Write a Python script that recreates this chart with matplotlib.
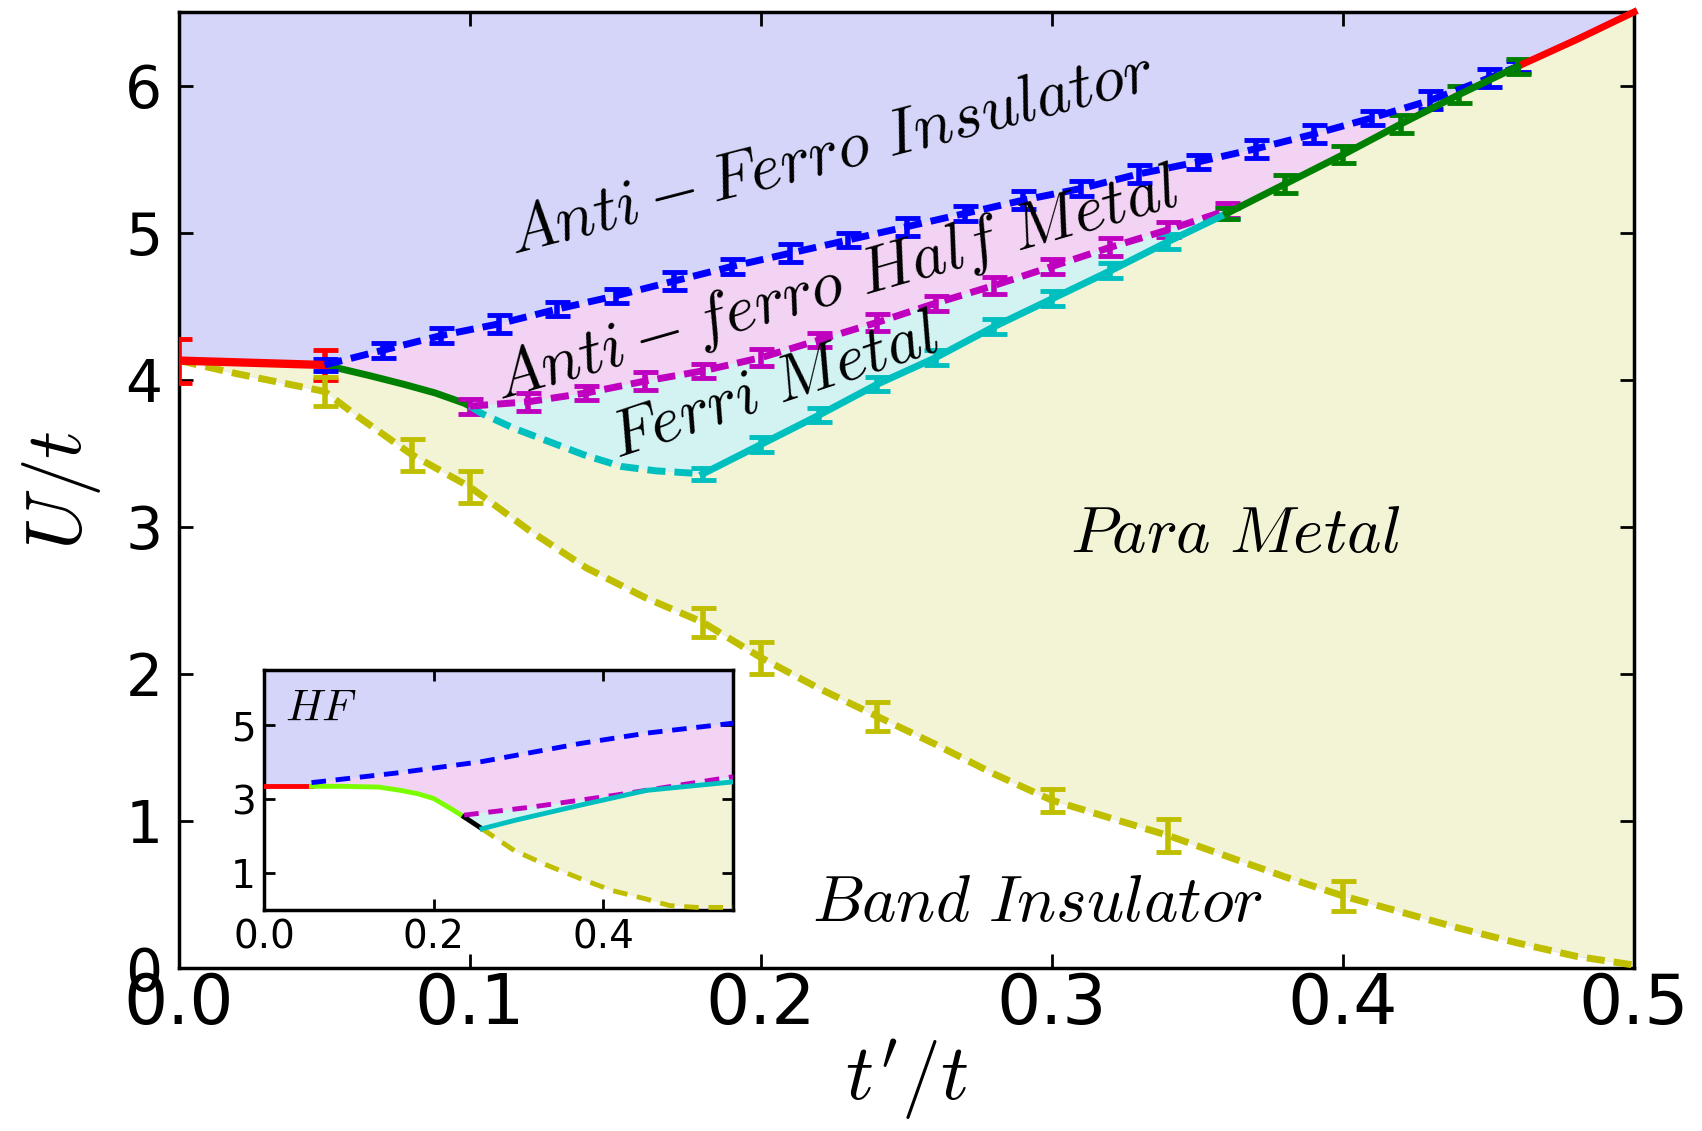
import matplotlib
matplotlib.use("Agg")
import matplotlib.pyplot as plt
import numpy as np

plt.rcParams['mathtext.fontset'] = 'cm'
plt.rcParams['font.family'] = ['DejaVu Sans']

# ---- main phase boundaries (t'/t, U/t, error) ----
red_lo_x = [0.0, 0.05]
red_lo_y = [4.13, 4.10]
red_lo_err = [0.15, 0.10]

grn_lo_x = [0.05, 0.065, 0.077, 0.088, 0.098, 0.10]
grn_lo_y = [4.10, 4.03, 3.97, 3.91, 3.84, 3.82]

blue_x = [0.05, 0.07, 0.09, 0.11, 0.13, 0.15, 0.17, 0.19, 0.21, 0.23, 0.25,
          0.27, 0.29, 0.31, 0.33, 0.35, 0.37, 0.39, 0.41, 0.43, 0.45, 0.46]
blue_y = [4.10, 4.20, 4.30, 4.38, 4.48, 4.57, 4.67, 4.77, 4.86, 4.95, 5.04,
          5.13, 5.22, 5.30, 5.40, 5.48, 5.57, 5.67, 5.78, 5.90, 6.05, 6.13]
blue_err = [0.04, 0.05, 0.05, 0.06, 0.05, 0.05, 0.06, 0.05, 0.06, 0.05, 0.06,
            0.05, 0.06, 0.05, 0.06, 0.05, 0.06, 0.06, 0.05, 0.06, 0.06, 0.04]

mag_x = [0.10, 0.12, 0.14, 0.16, 0.18, 0.20, 0.22, 0.24, 0.26, 0.28, 0.30,
         0.32, 0.34, 0.36]
mag_y = [3.82, 3.85, 3.91, 3.99, 4.06, 4.15, 4.27, 4.39, 4.52, 4.64, 4.77,
         4.90, 5.02, 5.15]
mag_err = [0.05, 0.06, 0.05, 0.06, 0.05, 0.06, 0.05, 0.06, 0.05, 0.06, 0.05,
           0.06, 0.05, 0.05]

cyn_d_x = [0.10, 0.104, 0.115, 0.127, 0.139, 0.152, 0.164, 0.18]
cyn_d_y = [3.82, 3.77, 3.67, 3.58, 3.49, 3.41, 3.38, 3.36]

cyn_x = [0.18, 0.20, 0.22, 0.24, 0.26, 0.28, 0.30, 0.32, 0.34, 0.36]
cyn_y = [3.36, 3.56, 3.76, 3.97, 4.15, 4.36, 4.55, 4.74, 4.94, 5.13]
cyn_err = [0.04, 0.05, 0.05, 0.05, 0.05, 0.05, 0.05, 0.05, 0.05, 0.04]

grn_hi_x = [0.36, 0.38, 0.40, 0.42, 0.44, 0.46]
grn_hi_y = [5.13, 5.33, 5.53, 5.74, 5.94, 6.13]
grn_hi_err = [0.04, 0.06, 0.06, 0.06, 0.06, 0.05]

red_hi_x = [0.46, 0.48, 0.50]
red_hi_y = [6.13, 6.31, 6.50]

yel_x = [0.0, 0.02, 0.05, 0.06, 0.07, 0.08, 0.09, 0.10, 0.12, 0.14, 0.16,
         0.18, 0.20, 0.22, 0.24, 0.26, 0.28, 0.30, 0.32, 0.34, 0.36, 0.38,
         0.40, 0.42, 0.44, 0.46, 0.48, 0.50]
yel_y = [4.13, 4.04, 3.92, 3.77, 3.63, 3.49, 3.38, 3.27, 2.98, 2.72, 2.52,
         2.35, 2.11, 1.90, 1.71, 1.52, 1.32, 1.14, 1.02, 0.90, 0.76, 0.62,
         0.49, 0.38, 0.27, 0.17, 0.08, 0.02]
yel_err = [0, 0, 0.10, 0, 0, 0.11, 0, 0.11, 0, 0, 0,
           0.10, 0.11, 0, 0.10, 0, 0, 0.08, 0, 0.11, 0, 0,
           0.10, 0, 0, 0, 0, 0]

# ---- inset (Hartree-Fock) boundaries ----
hf_red_x = [0.0, 0.056]
hf_red_y = [3.35, 3.35]
hf_lime_x = [0.056, 0.09, 0.135, 0.161, 0.181, 0.20, 0.22, 0.236]
hf_lime_y = [3.35, 3.35, 3.33, 3.24, 3.15, 3.02, 2.75, 2.52]
hf_blk_x = [0.236, 0.257]
hf_blk_y = [2.52, 2.20]
hf_yel_x = [0.257, 0.295, 0.334, 0.373, 0.41, 0.45, 0.478, 0.51, 0.553]
hf_yel_y = [2.20, 1.61, 1.21, 0.85, 0.53, 0.30, 0.12, 0.07, 0.07]
hf_blue_x = [0.056, 0.16, 0.257, 0.373, 0.451, 0.553]
hf_blue_y = [3.45, 3.72, 4.02, 4.51, 4.79, 5.06]
hf_mag_x = [0.236, 0.316, 0.414, 0.553]
hf_mag_y = [2.57, 2.79, 3.11, 3.61]
hf_cyn_x = [0.257, 0.296, 0.373, 0.451, 0.553]
hf_cyn_y = [2.20, 2.43, 2.84, 3.24, 3.47]

LAV = '#d5d5fa'
PINK = '#f3d3f3'
LCYN = '#d3f3f3'
BEIGE = '#f3f3d5'
GREEN = '#008000'

fig = plt.figure(figsize=(17.02, 11.31), dpi=100)
ax = fig.add_axes([0.1052, 0.1441, 0.8549, 0.8453])
ax.set_facecolor(LAV)

# regions
cat = np.concatenate
px = cat([blue_x, grn_hi_x[::-1], mag_x[::-1], grn_lo_x[::-1]])
py = cat([blue_y, grn_hi_y[::-1], mag_y[::-1], grn_lo_y[::-1]])
ax.fill(px, py, color=PINK, lw=0, zorder=1)

fx = cat([mag_x, cyn_x[::-1], cyn_d_x[::-1]])
fy = cat([mag_y, cyn_y[::-1], cyn_d_y[::-1]])
ax.fill(fx, fy, color=LCYN, lw=0, zorder=1)

bx = cat([red_lo_x, grn_lo_x, cyn_d_x, cyn_x, grn_hi_x, red_hi_x, yel_x[::-1]])
by = cat([red_lo_y, grn_lo_y, cyn_d_y, cyn_y, grn_hi_y, red_hi_y, yel_y[::-1]])
ax.fill(bx, by, color=BEIGE, lw=0, zorder=1)

ax.fill_between(yel_x, 0, yel_y, color='white', lw=0, zorder=1)

# boundaries
lw = 5
dash = (2.6, 1.3)
eb = dict(capsize=9, elinewidth=4, capthick=3.5, zorder=3)

ax.errorbar(red_lo_x, red_lo_y, yerr=red_lo_err, color='red', lw=lw + 1, **eb)
ax.plot(grn_lo_x, grn_lo_y, color=GREEN, lw=lw, zorder=3)
ax.errorbar(blue_x, blue_y, yerr=blue_err, color='b', lw=lw, dashes=dash, **eb)
ax.errorbar(mag_x, mag_y, yerr=mag_err, color='m', lw=lw, dashes=dash, **eb)
ax.plot(cyn_d_x, cyn_d_y, color='c', lw=lw, dashes=dash, zorder=3)
ax.errorbar(cyn_x, cyn_y, yerr=cyn_err, color='c', lw=lw, **eb)
ax.errorbar(grn_hi_x, grn_hi_y, yerr=grn_hi_err, color=GREEN, lw=lw, **eb)
ax.plot(red_hi_x, red_hi_y, color='red', lw=lw, zorder=3, clip_on=False)
ax.plot(yel_x, yel_y, color='y', lw=lw, dashes=dash, zorder=3)
ye = np.array(yel_err)
m = ye > 0
ax.errorbar(np.array(yel_x)[m], np.array(yel_y)[m], yerr=ye[m], fmt='none',
            ecolor='y', **eb)

# phase labels
tk = dict(fontsize=47, ha='center', va='center', zorder=4)
ax.text(0.224, 5.54, r'$Anti-Ferro\ Insulator$', rotation=14.5, **tk)
ax.text(0.226, 4.64, r'$Anti-ferro\ Half\ Metal$', rotation=16, **tk)
ax.text(0.2045, 3.95, r'$Ferri\ Metal$', rotation=18.5, **tk)
ax.text(0.363, 2.95, r'$Para\ Metal$', **tk)
ax.text(0.295, 0.44, r'$Band\ Insulator$', **tk)

ax.set_xlim(0, 0.5)
ax.set_ylim(0, 6.5)
ax.set_xticks([0.0, 0.1, 0.2, 0.3, 0.4, 0.5])
ax.set_yticks([0, 1, 2, 3, 4, 5, 6])
ax.set_xticklabels(['0.0', '0.1', '0.2', '0.3', '0.4', '0.5'])
ax.tick_params(direction='in', top=True, right=True, length=10, width=2)
ax.tick_params(axis='x', labelsize=50, pad=2)
ax.tick_params(axis='y', labelsize=42, pad=12)
for s in ax.spines.values():
    s.set_linewidth(2.5)
ax.set_xlabel(r"$t'/t$", fontsize=56, labelpad=0)
ax.set_ylabel(r'$U/t$', fontsize=56, labelpad=16)

# inset: Hartree-Fock diagram
ins = fig.add_axes([0.1551, 0.1954, 0.2756, 0.2122])
ins.set_facecolor(LAV)
ipx = cat([hf_blue_x, [0.553], hf_mag_x[::-1], hf_lime_x[::-1]])
ipy = cat([hf_blue_y, [hf_mag_y[-1]], hf_mag_y[::-1], hf_lime_y[::-1]])
ins.fill(ipx, ipy, color=PINK, lw=0, zorder=1)
ins.fill(cat([hf_mag_x, hf_cyn_x[::-1]]), cat([hf_mag_y, hf_cyn_y[::-1]]),
         color=LCYN, lw=0, zorder=1)
ins.fill(cat([hf_cyn_x, hf_yel_x[::-1]]), cat([hf_cyn_y, hf_yel_y[::-1]]),
         color=BEIGE, lw=0, zorder=1)
wx = cat([hf_red_x, hf_lime_x, hf_blk_x, hf_yel_x, [0.553, 0.0]])
wy = cat([hf_red_y, hf_lime_y, hf_blk_y, hf_yel_y, [0.0, 0.0]])
ins.fill(wx, wy, color='white', lw=0, zorder=1)

ilw = 3.5
ins.plot(hf_red_x, hf_red_y, color='red', lw=ilw, zorder=3)
ins.plot(hf_lime_x, hf_lime_y, color='#7cfc00', lw=ilw, zorder=3)
ins.plot(hf_blk_x, hf_blk_y, color='black', lw=ilw, zorder=3)
ins.plot(hf_yel_x, hf_yel_y, color='y', lw=ilw, dashes=(3, 2), zorder=3)
ins.plot(hf_blue_x, hf_blue_y, color='b', lw=ilw, dashes=(3, 2), zorder=3)
ins.plot(hf_mag_x, hf_mag_y, color='m', lw=ilw, dashes=(3, 2), zorder=3)
ins.plot(hf_cyn_x, hf_cyn_y, color='c', lw=ilw, zorder=3)
ins.text(0.025, 5.45, r'$HF$', fontsize=32, va='center', zorder=4)

ins.set_xlim(0, 0.553)
ins.set_ylim(0, 6.5)
ins.set_xticks([0.0, 0.2, 0.4])
ins.set_xticklabels(['0.0', '0.2', '0.4'])
ins.set_yticks([1, 3, 5])
ins.tick_params(direction='in', top=True, right=True, length=8, width=2,
                labelsize=28, pad=6)
for s in ins.spines.values():
    s.set_linewidth(2.5)

fig.savefig('out.png', dpi=100)
